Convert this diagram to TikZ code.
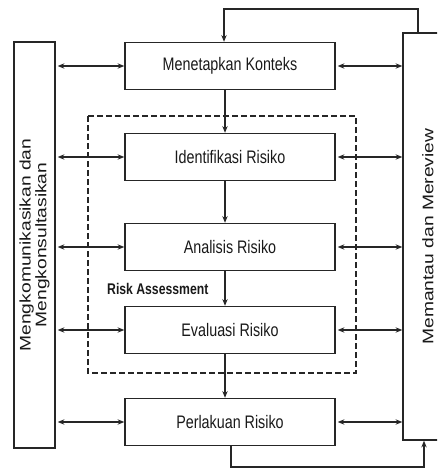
\documentclass[tikz,border=0pt]{standalone}
\usepackage{fontspec}
\setmainfont{Liberation Sans}
\newfontfamily\boxfont[FakeStretch=0.79]{Liberation Sans}
\newfontfamily\sidefont[FakeStretch=1.255]{Liberation Sans}
\usetikzlibrary{positioning,arrows.meta}

\begin{document}
\begin{tikzpicture}[x=0.75pt, y=-0.75pt, line width=1.1pt, color=black!85,
  stage/.style={draw, rectangle, inner sep=0pt, minimum width=157.5pt,
    minimum height=35.25pt, text=black!90,
    font=\boxfont\fontsize{13.6}{15}\selectfont},
  side/.style={draw, rectangle, inner sep=0pt, rotate=90, align=center,
    text=black!90, font=\sidefont\fontsize{11.5}{10.5}\selectfont},
  flow/.style={-{Stealth[length=5pt, width=4pt]}},
  both/.style={{Stealth[length=5pt, width=4pt]}-{Stealth[length=5pt, width=4pt]},
    shorten <=1.5pt}]
  % page frame, the right box runs past it
  \path[use as bounding box, clip] (0,0) rectangle (437,468);
  % process stages in the middle column
  \node[stage] (ctx) at (230,66) {Menetapkan Konteks};
  \node[stage] (idf) at (230,157) {Identifikasi Risiko};
  \node[stage] (ana) at (230,247) {Analisis Risiko};
  \node[stage] (eva) at (230,330) {Evaluasi Risiko};
  \node[stage] (per) at (230,422) {Perlakuan Risiko};
  % side boxes (rotated, so north/south point left/right)
  \node[side, minimum width=304.5pt, minimum height=30.75pt] (kom) at (34.5,245)
    {Mengkomunikasikan dan\\Mengkonsultasikan};
  \node[side, minimum width=305.25pt, minimum height=37.5pt] (pan) at (428,236.5)
    {Memantau dan Mereview};
  % risk assessment frame
  \draw[dash pattern=on 4.5pt off 2.25pt] (88,116) rectangle (356,373);
  \node[anchor=west, text=black!90, font=\boxfont\bfseries\fontsize{11.6}{13}\selectfont]
    (ra) at (102,289) {Risk Assessment};
  % downward flow between stages
  \coordinate (col) at (225,0);
  \draw[flow] (ctx.south -| col) -- (idf.north -| col);
  \draw[flow] (idf.south -| col) -- (ana.north -| col);
  \draw[flow] (ana.south -| col) -- (eva.north -| col);
  \draw[flow] (eva.south -| col) -- (per.north -| col);
  % links to both side boxes
  \foreach \s in {ctx,idf,ana,eva,per}{
    \draw[both] (\s.west -| kom.south) -- (\s.west);
    \draw[both] (\s.east) -- (\s.east -| pan.north);
  }
  % feedback loop over the top
  \coordinate (topR) at (418,9);
  \coordinate (topL) at (224,9);
  \draw[flow] (pan.east -| topR) -- (topR) -- (topL) -- (topL |- ctx.north);
  % loop under the bottom
  \coordinate (botL) at (231,467);
  \coordinate (botR) at (424,467);
  \draw[flow] (per.south -| botL) -- (botL) -- (botR) -- (botR |- pan.west);
\end{tikzpicture}
\end{document}
